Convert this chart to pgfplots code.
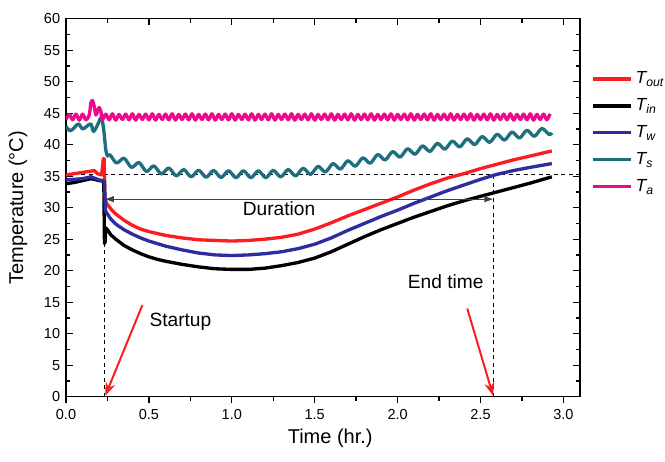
\documentclass[border=0pt]{standalone}
\usepackage{fontspec}
\setmainfont{Liberation Sans}
\usepackage{pgfplots}
\pgfplotsset{compat=1.18}
\usetikzlibrary{arrows.meta}
\definecolor{cout}{RGB}{250,30,35}
\definecolor{cw}{RGB}{45,45,160}
\definecolor{cs}{RGB}{30,110,125}
\definecolor{ca}{RGB}{236,10,140}
\begin{document}
\begin{tikzpicture}
\useasboundingbox (-39.6pt,-38.6pt) rectangle (359.4pt,238pt);
\pgfplotsset{common/.style={width=308.4pt,height=226.8pt,scale only axis,
  xmin=0,xmax=3.1,ymin=0,ymax=60,
  /pgf/number format/assume math mode=true,
  major tick length=4pt, minor tick length=2.5pt,
  every tick/.style={black, line width=0.8pt},
  axis line style={line width=0.8pt},
  tick label style={font=\fontsize{8.7}{10}\selectfont},
  xtick={0,0.5,1,1.5,2,2.5,3}, minor x tick num=1}}
% bottom axis with outward ticks
\begin{axis}[common, hide y axis, axis x line*=bottom, tick align=outside,
  xticklabel style={/pgf/number format/.cd,fixed,fixed zerofill,precision=1},
  xlabel={Time (hr.)},
  xlabel style={font=\fontsize{12}{14}\selectfont, at={(axis description cs:0.514,-0.109)}, anchor=center}]
\addplot[draw=none] coordinates {(0,0)};
\end{axis}
\begin{axis}[common, xtick pos=right, xticklabels={}, tick align=inside,
  ytick={0,5,...,60}, minor y tick num=1, ytick pos=both, yticklabel pos=left,
  ylabel={Temperature (°C)},
  ylabel style={font=\fontsize{12}{14}\selectfont, at={(axis description cs:-0.0935,0.5)}, anchor=center},
  legend style={at={(axis description cs:1.012,0.878)}, anchor=north west, draw=none, fill=none,
    font=\fontsize{10.5}{12}\selectfont, row sep=3.4pt, nodes={inner xsep=1.5pt}},
  legend cell align=left,
  legend image code/.code={\draw[#1, line width=2pt] (0pt,0pt) -- (23pt,0pt);},
  every axis plot/.append style={line width=2pt, line join=round}]
% reference lines
\draw[dashed, line width=0.6pt, dash pattern=on 2.5pt off 2pt] (0,35.3) -- (3.1,35.3);
\draw[dashed, line width=0.6pt, dash pattern=on 2.5pt off 2pt] (0.235,0) -- (0.235,35.3);
\draw[dashed, line width=0.6pt, dash pattern=on 2.5pt off 2pt] (2.578,0) -- (2.578,35.3);
% T_out
\addplot[cout] coordinates {(0,35.2)(0.05,35.4)(0.1,35.6)(0.15,35.8)(0.17,35.9)(0.19,35.4)(0.215,35.2)(0.225,37.8)(0.23,37.8)(0.235,31.5)(0.245,30.7)(0.27,29.8)(0.3,29.0)(0.35,28.0)(0.4,27.2)(0.45,26.6)(0.5,26.2)(0.55,25.9)(0.6,25.6)(0.7,25.2)(0.8,24.9)(0.9,24.8)(1.0,24.7)(1.1,24.8)(1.2,25.0)(1.3,25.3)(1.4,25.8)(1.5,26.6)(1.6,27.6)(1.7,28.7)(1.8,29.7)(1.9,30.7)(2.0,31.7)(2.1,32.8)(2.2,33.8)(2.3,34.7)(2.4,35.4)(2.5,36.2)(2.6,36.9)(2.7,37.6)(2.8,38.2)(2.93,39.0)};
\addlegendentry{\itshape T\textsubscript{out}}
% T_in
\addplot[black] coordinates {(0,33.8)(0.05,34.0)(0.1,34.3)(0.15,34.6)(0.17,34.5)(0.2,34.3)(0.228,34.2)(0.232,24.3)(0.236,24.6)(0.24,26.8)(0.25,26.5)(0.27,25.7)(0.3,25.0)(0.35,24.0)(0.4,23.3)(0.45,22.7)(0.5,22.2)(0.55,21.8)(0.6,21.5)(0.7,21.0)(0.8,20.6)(0.9,20.3)(1.0,20.2)(1.1,20.2)(1.2,20.4)(1.3,20.8)(1.4,21.3)(1.5,22.0)(1.6,23.0)(1.7,24.2)(1.8,25.4)(1.9,26.5)(2.0,27.5)(2.1,28.5)(2.2,29.4)(2.3,30.3)(2.4,31.1)(2.5,31.8)(2.6,32.5)(2.7,33.2)(2.8,33.9)(2.93,34.9)};
\addlegendentry{\itshape T\textsubscript{in}}
% T_w
\addplot[cw] coordinates {(0,34.4)(0.05,34.5)(0.1,34.6)(0.15,34.9)(0.17,34.7)(0.2,34.4)(0.225,34.3)(0.232,34.2)(0.238,29.5)(0.245,29.2)(0.27,28.2)(0.3,27.4)(0.35,26.5)(0.4,25.8)(0.45,25.2)(0.5,24.7)(0.55,24.3)(0.6,23.9)(0.7,23.3)(0.8,22.8)(0.9,22.5)(1.0,22.4)(1.1,22.5)(1.2,22.7)(1.3,23.0)(1.4,23.5)(1.5,24.2)(1.6,25.2)(1.7,26.4)(1.8,27.5)(1.9,28.6)(2.0,29.6)(2.1,30.7)(2.2,31.7)(2.3,32.7)(2.4,33.6)(2.5,34.5)(2.6,35.3)(2.7,35.9)(2.8,36.4)(2.93,37.0)};
\addlegendentry{\itshape T\textsubscript{w}}
% T_s
\addplot[cs, smooth] coordinates {(0,42.9)(0.025,42.2)(0.05,42.7)(0.075,43.3)(0.10,42.5)(0.125,42.9)(0.15,43.3)(0.165,42.1)(0.18,42.6)(0.20,43.7)(0.21,44.3)(0.22,43.7)(0.23,41.8)(0.24,39.2)(0.25,38.2)
(0.265,38.4)(0.305,37.1)(0.35,37.85)(0.395,36.39)(0.44,37.17)(0.485,35.75)(0.53,36.63)(0.575,35.35)(0.62,36.29)(0.665,35.05)(0.71,36.04)(0.755,34.9)(0.8,35.95)(0.845,34.83)(0.89,35.91)(0.935,34.78)(0.98,35.86)(1.025,34.75)(1.07,35.85)(1.115,34.75)(1.16,35.85)(1.205,34.76)(1.25,35.92)(1.295,34.88)(1.34,36.04)(1.385,35.04)(1.43,36.26)(1.475,35.28)(1.52,36.55)(1.565,35.68)(1.61,37.0)(1.655,36.13)(1.7,37.45)(1.745,36.58)(1.79,37.9)(1.835,37.06)(1.88,38.43)(1.925,37.58)(1.97,38.9)(2.015,38.03)(2.06,39.35)(2.105,38.48)(2.15,39.8)(2.195,38.93)(2.24,40.21)(2.285,39.29)(2.33,40.57)(2.375,39.65)(2.42,40.93)(2.465,40.01)(2.51,41.29)(2.555,40.37)(2.6,41.65)(2.645,40.73)(2.69,42.01)(2.735,41.06)(2.78,42.29)(2.825,41.33)(2.87,42.57)(2.915,41.6)(2.93,41.9)};
\addlegendentry{\itshape T\textsubscript{s}}
% T_a
\addplot[ca, smooth] coordinates {(0,44.0)(0.02,44.8)(0.04,43.95)(0.06,44.85)(0.08,43.9)(0.10,44.85)(0.12,43.95)(0.14,44.7)(0.15,46.6)(0.16,47.0)(0.17,46.1)(0.18,44.7)(0.19,45.3)(0.20,45.9)(0.21,45.3)(0.22,44.0)
(0.24,44.85)(0.26,43.95)(0.28,44.9)(0.30,43.9)(0.32,44.8)(0.34,44.0)(0.36,44.85)(0.38,43.95)(0.40,44.9)(0.42,43.9)(0.44,44.8)(0.46,44.0)
(0.48,44.85)(0.50,43.95)(0.52,44.9)(0.54,43.9)(0.56,44.8)(0.58,44.0)(0.60,44.85)(0.62,43.95)(0.64,44.9)(0.66,43.9)(0.68,44.8)(0.70,44.0)
(0.72,44.85)(0.74,43.95)(0.76,44.9)(0.78,43.9)(0.80,44.8)(0.82,44.0)(0.84,44.85)(0.86,43.95)(0.88,44.9)(0.90,43.9)(0.92,44.8)(0.94,44.0)
(0.96,44.85)(0.98,43.95)(1.00,44.9)(1.02,43.9)(1.04,44.8)(1.06,44.0)(1.08,44.85)(1.10,43.95)(1.12,44.9)(1.14,43.9)(1.16,44.8)(1.18,44.0)
(1.20,44.85)(1.22,43.95)(1.24,44.9)(1.26,43.9)(1.28,44.8)(1.30,44.0)(1.32,44.85)(1.34,43.95)(1.36,44.9)(1.38,43.9)(1.40,44.8)(1.42,44.0)
(1.44,44.85)(1.46,43.95)(1.48,44.9)(1.50,43.9)(1.52,44.8)(1.54,44.0)(1.56,44.85)(1.58,43.95)(1.60,44.9)(1.62,43.9)(1.64,44.8)(1.66,44.0)
(1.68,44.85)(1.70,43.95)(1.72,44.9)(1.74,43.9)(1.76,44.8)(1.78,44.0)(1.80,44.85)(1.82,43.95)(1.84,44.9)(1.86,43.9)(1.88,44.8)(1.90,44.0)
(1.92,44.85)(1.94,43.95)(1.96,44.9)(1.98,43.9)(2.00,44.8)(2.02,44.0)(2.04,44.85)(2.06,43.95)(2.08,44.9)(2.10,43.9)(2.12,44.8)(2.14,44.0)
(2.16,44.85)(2.18,43.95)(2.20,44.9)(2.22,43.9)(2.24,44.8)(2.26,44.0)(2.28,44.85)(2.30,43.95)(2.32,44.9)(2.34,43.9)(2.36,44.8)(2.38,44.0)
(2.40,44.85)(2.42,43.95)(2.44,44.9)(2.46,43.9)(2.48,44.8)(2.50,44.0)(2.52,44.85)(2.54,43.95)(2.56,44.9)(2.58,43.9)(2.60,44.8)(2.62,44.0)
(2.64,44.85)(2.66,43.95)(2.68,44.9)(2.70,43.9)(2.72,44.8)(2.74,44.0)(2.76,44.85)(2.78,43.95)(2.80,44.9)(2.82,43.9)(2.84,44.8)(2.86,44.0)
(2.88,44.85)(2.90,43.95)(2.92,44.9)};
\addlegendentry{\itshape T\textsubscript{a}}
% annotations
\draw[black!75, line width=0.5pt, {Triangle[length=5pt,width=3.5pt]}-{Triangle[length=5pt,width=3.5pt]}] (0.238,31.35) -- (2.574,31.35);
\node[font=\fontsize{11.5}{13}\selectfont] at (1.285,29.9) {Duration};
\node[font=\fontsize{11.5}{13}\selectfont] at (0.69,11.9) {Startup};
\node[font=\fontsize{11.5}{13}\selectfont] at (2.29,18.2) {End time};
\draw[cout, line width=1.2pt, -{Stealth[length=8pt,width=6pt]}] (0.46,14.5) -- (0.237,0.15);
\draw[cout, line width=1.2pt, -{Stealth[length=8pt,width=6pt]}] (2.42,14.0) -- (2.576,0.15);
\end{axis}
\end{tikzpicture}
\end{document}
